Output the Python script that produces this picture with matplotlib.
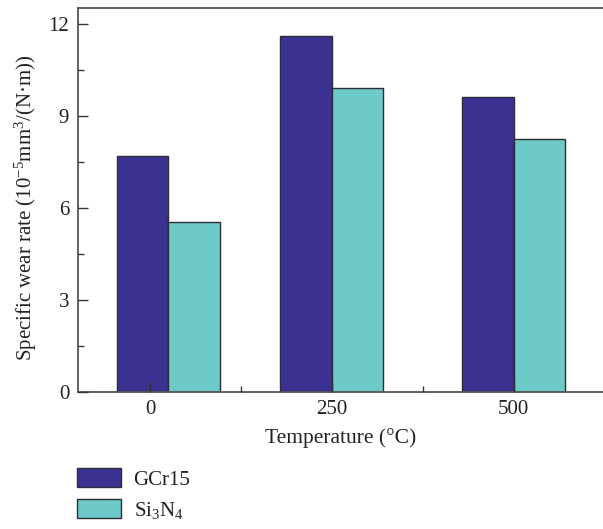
import matplotlib
matplotlib.use('Agg')
import matplotlib.pyplot as plt
import numpy as np

# data
temps = [0, 250, 500]                 # tick labels (°C)
group_pos = [25, 250, 500]            # bar group centres (first group sits right of its tick)
gcr15 = [7.68, 11.61, 9.62]
si3n4 = [5.54, 9.90, 8.26]
series_names = ["GCr15", "Si$_3$N$_4$"]
series_colors = ["#3b3191", "#6ecac8"]
yticks = [0, 3, 6, 9, 12]

plt.rcParams['font.family'] = ['Liberation Serif', 'DejaVu Serif']
plt.rcParams['mathtext.fontset'] = 'custom'
plt.rcParams['mathtext.rm'] = 'Liberation Serif'
plt.rcParams['mathtext.it'] = 'Liberation Serif:italic'

fig = plt.figure(figsize=(6.03, 5.29), dpi=100)
ax = fig.add_axes([77.5 / 603, 1 - 392 / 529, (603 - 77.5) / 603, (392 - 7.5) / 529])
ax.set_axisbelow(False)

width = 71
pos = np.array(group_pos, dtype=float)
for vals, off, name, col in zip([gcr15, si3n4], [-width / 2, width / 2],
                                series_names, series_colors):
    ax.bar(pos + off, vals, width=width, color=col, edgecolor='#2b2b3a',
           linewidth=1.0, label=name, zorder=1)

ax.set_xlim(-100, 623)
ax.set_ylim(0, 12.53)
ax.set_xticks(temps)
ax.set_xticklabels([str(t) for t in temps])
ax.set_xticks([125, 375], minor=True)
ax.set_yticks(yticks)
ax.set_yticks([1.5, 4.5, 7.5, 10.5], minor=True)

ax.tick_params(axis='both', which='major', direction='in', length=7, width=1.0,
               labelsize=15, color='#333333', labelcolor='#222222', pad=6)
ax.tick_params(axis='both', which='minor', direction='in', length=4, width=1.0,
               color='#333333')
ax.xaxis.set_tick_params(which='both', top=False)
ax.yaxis.set_tick_params(which='both', right=False)

for s in ['left', 'bottom', 'top']:
    ax.spines[s].set_color('#555555')
    ax.spines[s].set_linewidth(1.3)
ax.spines['right'].set_visible(False)

ax.set_xlabel("Temperature (°C)", fontsize=15.5, color='#222222', labelpad=6)
ax.set_ylabel("Specific wear rate (10$^{-5}$mm$^3$/(N·m))", fontsize=15,
              color='#222222')
ax.yaxis.set_label_coords(-0.074, 0.48)

fig.legend(loc='upper left', bbox_to_anchor=(77.3 / 603, 1 - 468 / 529),
           frameon=False, fontsize=15, handlelength=2.1, handleheight=1.05,
           handletextpad=0.6, labelspacing=0.45, borderpad=0, borderaxespad=0,
           labelcolor='#222222')

fig.savefig('out.png', dpi=100, facecolor='white')
